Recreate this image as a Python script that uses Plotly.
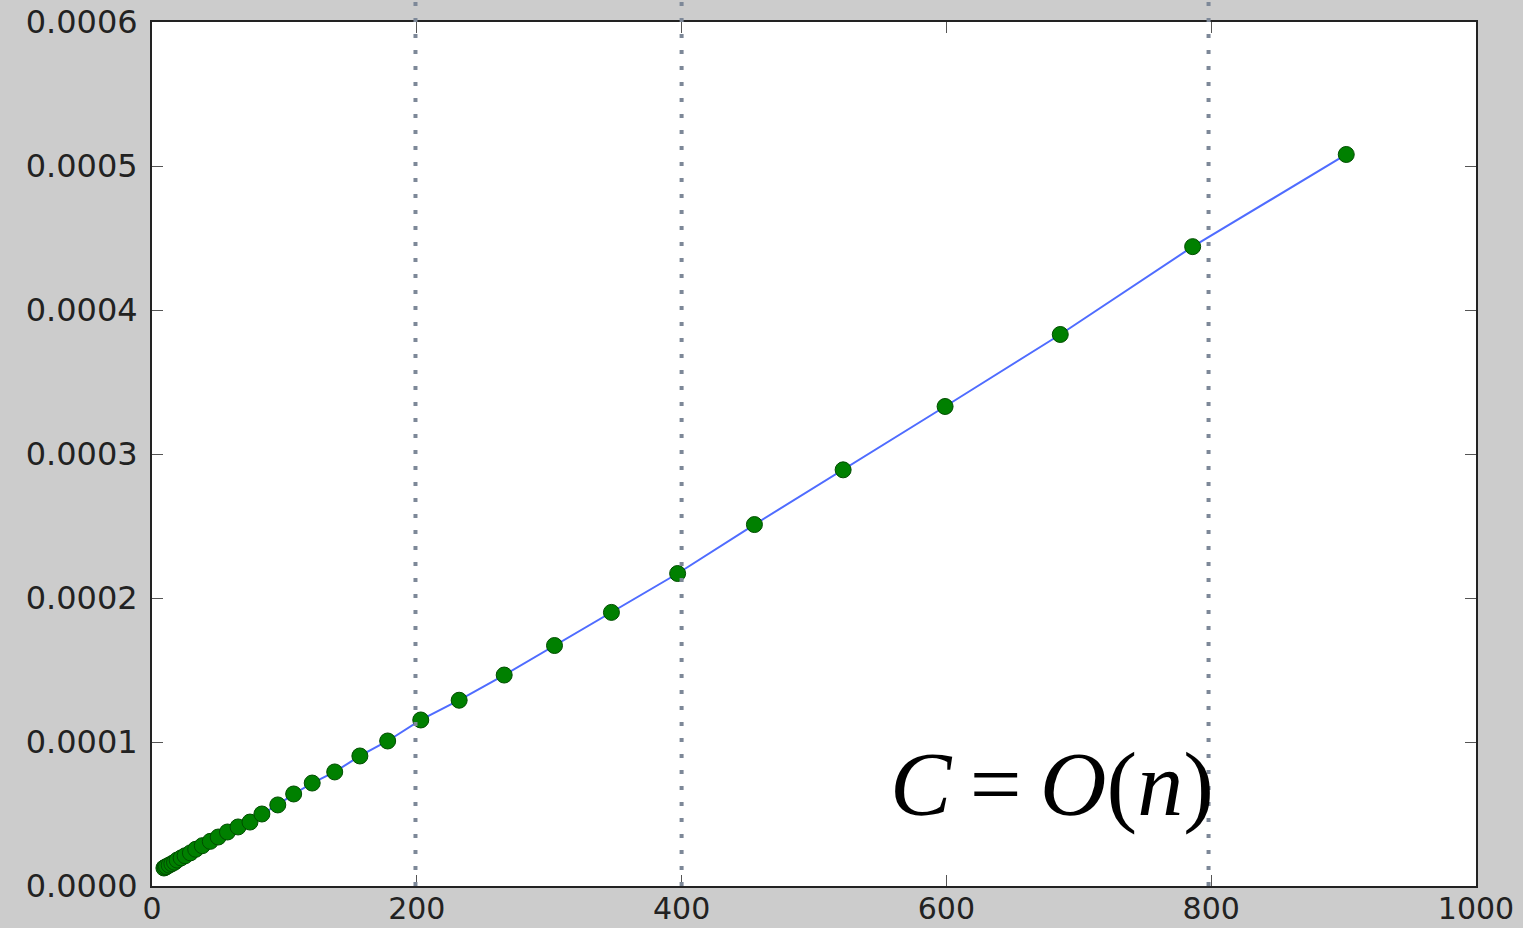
import plotly.graph_objects as go

# data
n_values = [9, 10, 11, 13, 15, 17, 19, 22, 25, 29, 33, 38, 44, 50, 57, 65, 74, 83,
            95, 107, 121, 138, 157, 178, 203, 232, 266, 304, 347, 397, 455, 522,
            599, 686, 786, 902]
cost_values = [0.0000125, 0.0000130, 0.0000135, 0.0000145, 0.0000155, 0.0000165,
               0.0000180, 0.0000195, 0.0000210, 0.0000230, 0.0000255, 0.0000280,
               0.0000310, 0.0000340, 0.0000375, 0.0000410, 0.0000444, 0.0000500,
               0.0000563, 0.0000639, 0.0000715, 0.0000792, 0.0000903, 0.0001007,
               0.0001153, 0.0001290, 0.0001465, 0.0001670, 0.0001900, 0.0002170,
               0.0002510, 0.0002890, 0.0003330, 0.0003830, 0.0004440, 0.0005080]
marker_lines_x = [199, 400, 798]
x_ticks = [0, 200, 400, 600, 800, 1000]
y_ticks = [0.0, 0.0001, 0.0002, 0.0003, 0.0004, 0.0005, 0.0006]
label_text = "<i>C</i>\u2009=\u2009<i>O</i>(<i>n</i>)"

fig = go.Figure()
fig.add_trace(go.Scatter(
    x=n_values, y=cost_values, mode="lines+markers",
    line=dict(color="#4f6cff", width=2),
    marker=dict(color="#008000", size=16, line=dict(color="#004d00", width=1)),
    showlegend=False,
))

for xv in marker_lines_x:
    fig.add_shape(type="line", xref="x", yref="paper", x0=xv, x1=xv, y0=0, y1=1.03,
                  line=dict(color="#7d8898", width=4, dash="4px,12px"), layer="above")

fig.add_annotation(text=label_text, xref="paper", yref="paper", x=0.6795, y=0.118,
                   xanchor="center", yanchor="middle", showarrow=False,
                   font=dict(family="Liberation Serif", size=92, color="#000000"))

axis_common = dict(showgrid=False, zeroline=False, showline=True, linecolor="#222222",
                   linewidth=2, mirror="ticks", ticks="inside", ticklen=11,
                   tickcolor="#555555", tickwidth=1, automargin=False)

fig.update_xaxes(range=[0, 1000], tickvals=x_ticks, ticktext=[str(v) for v in x_ticks],
                 ticklabelstandoff=-5,
                 tickfont=dict(family="DejaVu Sans", size=30, color="#222222"),
                 **axis_common)
fig.update_yaxes(range=[0, 0.0006], tickvals=y_ticks,
                 ticktext=[f"{v:.4f}" for v in y_ticks], ticklabelstandoff=6,
                 tickfont=dict(family="DejaVu Sans", size=32, color="#222222"),
                 **axis_common)

fig.update_layout(
    width=1523, height=928,
    margin=dict(l=152, r=47, t=22, b=42),
    paper_bgcolor="#cccccc", plot_bgcolor="#ffffff",
)

fig.write_html("out.html")
